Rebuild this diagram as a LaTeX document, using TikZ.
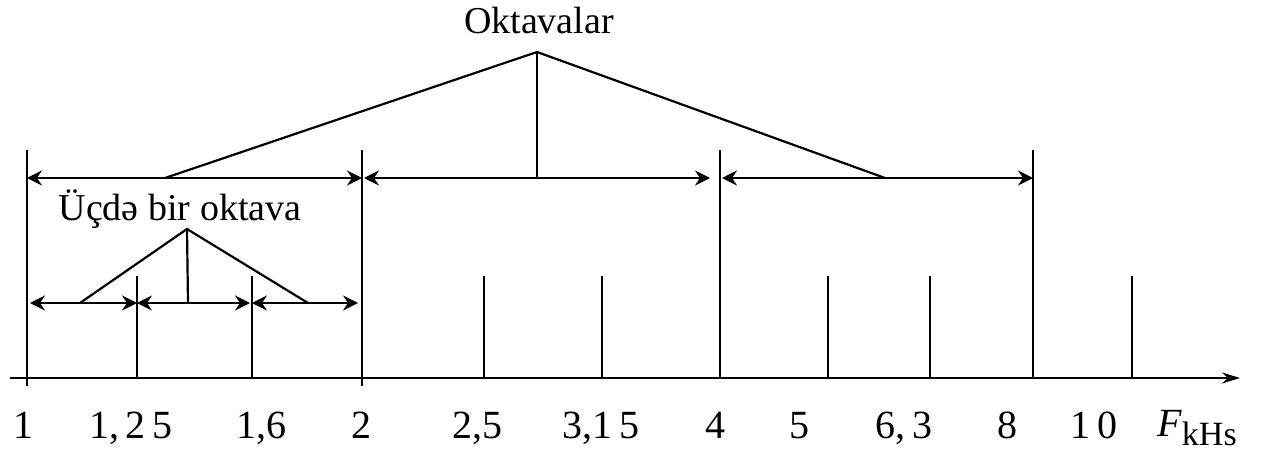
\documentclass[tikz,border=0pt]{standalone}
\usepackage{fontspec}
\setmainfont{Liberation Serif}
\usetikzlibrary{arrows.meta}
\tikzset{
  dimarr/.style={{Stealth[length=15pt,width=15pt,inset=5pt]}-{Stealth[length=15pt,width=15pt,inset=5pt]},
    line width=2.3pt},
  bandline/.style={line width=2.3pt},
  tickline/.style={line width=2pt},
  peakline/.style={line width=2.2pt},
  ticklab/.style={anchor=base, inner sep=0pt, font=\fontsize{40}{42}\selectfont},
  titlelab/.style={anchor=base, inner sep=0pt, font=\fontsize{38}{40}\selectfont},
}

\begin{document}
\begin{tikzpicture}[x=1pt, y=-1pt]
  \useasboundingbox (0,0) rectangle (1268,452);

  % frequency axis
  \coordinate (axstart) at (10,378);
  \coordinate (axend) at (1240,378);
  \draw[line width=2.3pt, -{Stealth[length=18pt,width=11pt]}] (axstart) -- (axend);

  % octave band limits
  \foreach \nm/\x/\bot in {b1/27/386, b2/362/386, b4/720/378, b8/1033/378} {
    \coordinate (\nm top) at (\x,150);
    \coordinate (\nm mid) at (\x,178);
    \coordinate (\nm) at (\x,\bot);
    \draw[bandline] (\nm top) -- (\nm);
  }

  % third-octave marks
  \foreach \nm/\x in {t125/137, t16/252, t25/484, t315/602, t5/828, t63/930, t10/1132} {
    \coordinate (\nm top) at (\x,276);
    \coordinate (\nm) at (\x,378);
    \draw[tickline] (\nm top) -- (\nm);
  }

  % frequency labels
  \foreach \nm/\x/\lab in {1/23/1, 125/131/{1,\,2\,5}, 16/261/{1,6}, 2/361/2, 25/477/{2,5},
      315/601/{3,1\,5}, 4/715/4, 5/799/5, 63/904/{6,\,3}, 8/1007/8, 10/1094/{1\,0}}
    \node[ticklab] (l\nm) at (\x,438) {\lab};
  \node[anchor=base west, inner sep=0pt, font=\fontsize{40}{42}\selectfont] (funit) at (1157,436)
    {\textit{F}\raisebox{-9pt}{\fontsize{34}{36}\selectfont kHs}};

  % octaves
  \coordinate (t125mid) at (137,303);
  \coordinate (t16mid) at (252,303);
  \draw[dimarr] (b1mid) -- (b2mid);
  \draw[dimarr, shorten <=2pt, shorten >=10pt] (b2mid) -- (b4mid);
  \draw[dimarr, shorten <=2pt] (b4mid) -- (b8mid);

  \node[titlelab] (oct) at (539,34) {Oktavalar};
  \coordinate (octpeak) at (537,52);
  \draw[peakline] (165,178) coordinate (octl) -- (octpeak) -- (885,178) coordinate (octr);
  \draw[peakline] (octpeak) -- (537,178) coordinate (octc);

  % third octaves
  \coordinate (t1s) at (30,303);
  \coordinate (t2s) at (358,303);
  \draw[dimarr] (t1s) -- (t125mid);
  \draw[dimarr, shorten >=2pt] (t125mid) -- (t16mid);
  \draw[dimarr] (t16mid) -- (t2s);

  \node[titlelab] (third) at (180,220) {Üçdə bir oktava};
  \coordinate (thpeak) at (187,229);
  \draw[peakline] (80,303) coordinate (thl) -- (thpeak) -- (308,303) coordinate (thr);
  \draw[peakline] (thpeak) -- (188,303) coordinate (thc);
\end{tikzpicture}
\end{document}
